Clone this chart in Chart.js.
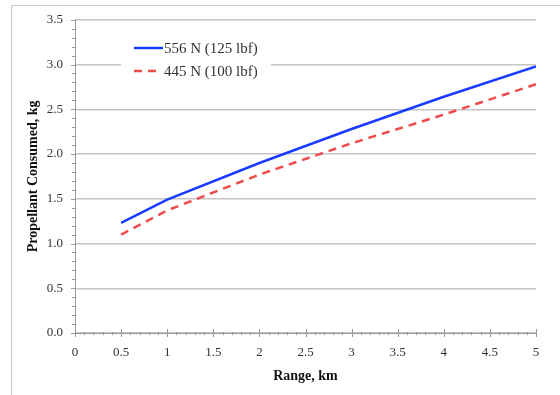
<!DOCTYPE html>
<html>
<head>
<meta charset="utf-8">
<script src="https://cdn.jsdelivr.net/npm/chart.js@4"></script>
<style>
  body { margin: 0; background: #fff; }
  #frame { position: absolute; left: 11px; top: 5px; width: 600px; height: 420px; border: 1.5px solid #c8c8c8; }
  #wrap { position: absolute; left: 0; top: 0; width: 560px; height: 395px; }
</style>
</head>
<body>
<div id="frame"></div>
<div id="wrap"><canvas id="myChart" width="560" height="395"></canvas></div>
<script>
// ranges in km
const ranges = [0.5, 1, 2, 3, 4, 5];
// propellant consumed, kg
const thrust556 = [1.23, 1.49, 1.90, 2.28, 2.64, 2.98];
const thrust445 = [1.10, 1.37, 1.77, 2.12, 2.44, 2.78];
const seriesLabels = ['556 N (125 lbf)', '445 N (100 lbf)'];

const serif = "'Liberation Serif', 'Times New Roman', serif";

function toPoints(vals) {
    return ranges.map((r, i) => ({ x: r, y: vals[i] }));
}

// minor ticks and the in-plot legend
const extras = {
    id: 'extras',
    afterDraw(chart) {
        const c = chart.ctx;
        const xs = chart.scales.x, ys = chart.scales.y;
        const a = chart.chartArea;
        c.save();
        c.strokeStyle = '#999';
        c.lineWidth = 1;
        c.beginPath();
        for (let v = 0; v <= 5.001; v += 0.1) {
            const px = Math.round(xs.getPixelForValue(v)) + 0.5;
            const major = Math.abs(v * 2 - Math.round(v * 2)) < 0.01;
            c.moveTo(px, a.bottom + (major ? 4 : 2));
            c.lineTo(px, a.bottom - (major ? 4 : 1));
        }
        for (let v = 0; v <= 3.501; v += 0.1) {
            const py = Math.round(ys.getPixelForValue(v)) + 0.5;
            const major = Math.abs(v * 2 - Math.round(v * 2)) < 0.01;
            c.moveTo(a.left - (major ? 4 : 3), py);
            c.lineTo(a.left + (major ? 1 : 0), py);
        }
        c.stroke();

        // legend box
        c.fillStyle = '#fff';
        c.fillRect(121, 34, 150, 50);
        c.font = '15px ' + serif;
        c.textBaseline = 'middle';
        chart.data.datasets.forEach((ds, i) => {
            const y = 48 + i * 23;
            c.strokeStyle = ds.borderColor;
            c.lineWidth = 2.5;
            c.setLineDash(ds.borderDash || []);
            c.beginPath();
            c.moveTo(134, y);
            c.lineTo(i === 0 ? 163 : 159, y);
            c.stroke();
            c.setLineDash([]);
            c.fillStyle = '#333';
            c.fillText(ds.label, 164, y + 1);
        });
        c.restore();
    }
};

const ctx = document.getElementById('myChart');
new Chart(ctx, {
    type: 'line',
    data: {
        datasets: [{
            label: seriesLabels[0],
            data: toPoints(thrust556),
            borderColor: '#1a3cff',
            borderWidth: 2.5,
            pointRadius: 0,
            tension: 0
        }, {
            label: seriesLabels[1],
            data: toPoints(thrust445),
            borderColor: '#ee4b4b',
            borderWidth: 2.5,
            borderDash: [8, 6],
            pointRadius: 0,
            tension: 0
        }]
    },
    options: {
        responsive: false,
        animation: false,
        layout: { padding: { top: 19, right: 24, left: 0, bottom: 0 } },
        plugins: { legend: { display: false }, tooltip: { enabled: false } },
        scales: {
            x: {
                type: 'linear',
                min: 0, max: 5,
                ticks: { stepSize: 0.5, color: '#333', font: { family: serif, size: 13 }, padding: 12, maxRotation: 0,
                    callback: v => String(v) },
                grid: { display: false, drawTicks: false },
                border: { color: '#999', width: 1 },
                title: { display: true, text: 'Range, km', color: '#111', font: { family: serif, size: 14, weight: 'bold' }, padding: { bottom: 10 } },
                afterFit(s) { s.height = 62; }
            },
            y: {
                min: 0, max: 3.5,
                ticks: { stepSize: 0.5, color: '#333', font: { family: serif, size: 13 }, padding: 12,
                    callback: v => v.toFixed(1) },
                grid: { color: '#c4c4c4', lineWidth: 1.5, drawTicks: false },
                border: { color: '#999', width: 1 },
                title: { display: true, text: 'Propellant Consumed, kg', color: '#111', font: { family: serif, size: 14, weight: 'bold' }, padding: { top: 25 } },
                afterFit(s) { s.width = 75; }
            }
        }
    },
    plugins: [extras]
});
</script>
</body>
</html>
